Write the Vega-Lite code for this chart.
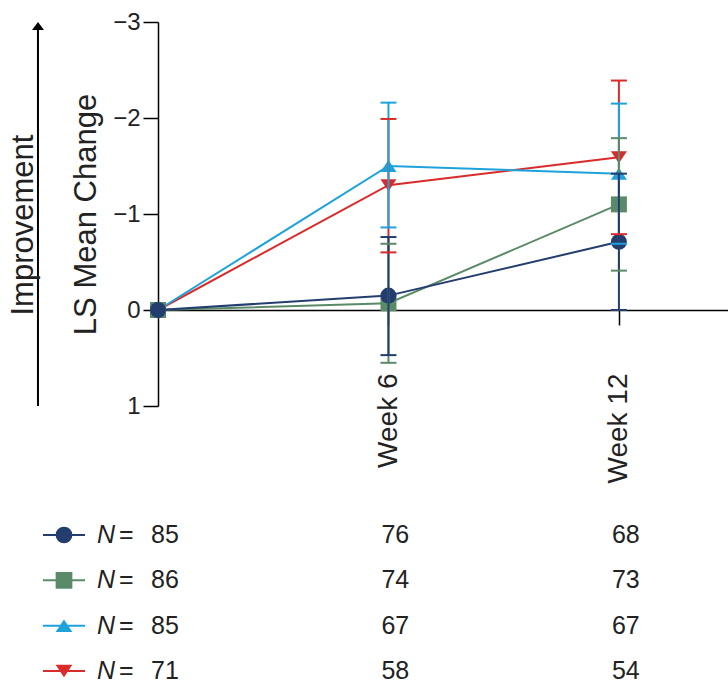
{
  "$schema": "https://vega.github.io/schema/vega-lite/v6.json",
  "width": 570,
  "height": 384,
  "autosize": {"type": "none"},
  "padding": {"left": 158, "top": 22, "right": 0, "bottom": 279},
  "config": {"view": {"stroke": null}, "font": "Liberation Sans", "axis": {"grid": false}},
  "datasets": {
    "means": [
      {"arm": "Arm 4", "week": 0, "mean": 0, "lo": null, "hi": null},
      {"arm": "Arm 4", "week": 6, "mean": -1.30, "lo": -1.99, "hi": -0.60},
      {"arm": "Arm 4", "week": 12, "mean": -1.59, "lo": -2.39, "hi": -0.79},
      {"arm": "Arm 3", "week": 0, "mean": 0, "lo": null, "hi": null},
      {"arm": "Arm 3", "week": 6, "mean": -1.50, "lo": -2.16, "hi": -0.86},
      {"arm": "Arm 3", "week": 12, "mean": -1.42, "lo": -2.15, "hi": -0.69},
      {"arm": "Arm 2", "week": 0, "mean": 0, "lo": null, "hi": null},
      {"arm": "Arm 2", "week": 6, "mean": -0.07, "lo": -0.69, "hi": 0.55},
      {"arm": "Arm 2", "week": 12, "mean": -1.10, "lo": -1.79, "hi": -0.41},
      {"arm": "Arm 1", "week": 0, "mean": 0, "lo": null, "hi": null},
      {"arm": "Arm 1", "week": 6, "mean": -0.15, "lo": -0.76, "hi": 0.47},
      {"arm": "Arm 1", "week": 12, "mean": -0.71, "lo": -1.42, "hi": 0.0}
    ],
    "counts": [
      {"arm": "Arm 1", "week": 0, "n": 85},
      {"arm": "Arm 1", "week": 6, "n": 76},
      {"arm": "Arm 1", "week": 12, "n": 68},
      {"arm": "Arm 2", "week": 0, "n": 86},
      {"arm": "Arm 2", "week": 6, "n": 74},
      {"arm": "Arm 2", "week": 12, "n": 73},
      {"arm": "Arm 3", "week": 0, "n": 85},
      {"arm": "Arm 3", "week": 6, "n": 67},
      {"arm": "Arm 3", "week": 12, "n": 67},
      {"arm": "Arm 4", "week": 0, "n": 71},
      {"arm": "Arm 4", "week": 6, "n": 58},
      {"arm": "Arm 4", "week": 12, "n": 54}
    ]
  },
  "layer": [
    {
      "data": {"name": "means"},
      "layer": [
        {
          "mark": {"type": "line", "strokeWidth": 2},
          "encoding": {
            "x": {"field": "week", "type": "quantitative",
              "scale": {"domain": [0, 14.84], "nice": false, "zero": false},
              "axis": {"orient": "bottom", "offset": -96, "values": [6, 12], "labelExpr": "'Week ' + datum.value",
                "labelAngle": 270, "labelFontSize": 28, "labelColor": "#222", "labelPadding": 48,
                "tickSize": 15, "tickColor": "black", "tickWidth": 1.5, "domainColor": "black", "domainWidth": 1.5,
                "title": null, "labelFlush": false}},
            "y": {"field": "mean", "type": "quantitative",
              "scale": {"domain": [-3, 1], "reverse": true, "nice": false, "zero": false},
              "axis": {"values": [-3, -2, -1, 0, 1], "format": "d", "labelExpr": "format(datum.value, 'd')",
                "labelFontSize": 24, "labelColor": "#222", "labelPadding": 3,
                "tickSize": 15, "tickColor": "black", "tickWidth": 1.5, "domainColor": "black", "domainWidth": 1.5,
                "title": "LS Mean Change", "titleFontSize": 31, "titleFontWeight": "normal", "titleColor": "#222",
                "titleX": -63, "titleY": 192, "titleBaseline": "alphabetic", "titleAlign": "center", "titleAngle": 270}},
            "color": {"field": "arm", "type": "nominal",
              "scale": {"domain": ["Arm 1", "Arm 2", "Arm 3", "Arm 4"], "range": ["#233e6e", "#5b8a68", "#1ea2dc", "#da2b2b"]},
              "legend": null}
          }
        },
        {
          "mark": {"type": "point", "filled": true, "size": 256, "opacity": 1},
          "encoding": {
            "x": {"field": "week", "type": "quantitative"},
            "y": {"field": "mean", "type": "quantitative"},
            "color": {"field": "arm", "type": "nominal", "legend": null},
            "shape": {"field": "arm", "type": "nominal",
              "scale": {"domain": ["Arm 1", "Arm 2", "Arm 3", "Arm 4"], "range": ["circle", "square", "M0,-0.75L1,0.75L-1,0.75Z", "M0,0.75L1,-0.75L-1,-0.75Z"]},
              "legend": null}
          }
        },
        {
          "mark": {"type": "rule", "strokeWidth": 2},
          "encoding": {
            "x": {"field": "week", "type": "quantitative"},
            "y": {"field": "lo", "type": "quantitative"},
            "y2": {"field": "hi"},
            "color": {"field": "arm", "type": "nominal", "legend": null}
          }
        },
        {
          "mark": {"type": "tick", "orient": "horizontal", "size": 16, "thickness": 2, "opacity": 1},
          "encoding": {
            "x": {"field": "week", "type": "quantitative"},
            "y": {"field": "lo", "type": "quantitative"},
            "color": {"field": "arm", "type": "nominal", "legend": null}
          }
        },
        {
          "mark": {"type": "tick", "orient": "horizontal", "size": 16, "thickness": 2, "opacity": 1},
          "encoding": {
            "x": {"field": "week", "type": "quantitative"},
            "y": {"field": "hi", "type": "quantitative"},
            "color": {"field": "arm", "type": "nominal", "legend": null}
          }
        },
        {
          "data": {"values": [{}]},
          "mark": {"type": "rule", "strokeWidth": 2, "color": "black"},
          "encoding": {
            "x": {"datum": -3.125, "type": "quantitative"},
            "y": {"datum": 1, "type": "quantitative"},
            "y2": {"datum": -2.95}
          }
        },
        {
          "data": {"values": [{}]},
          "mark": {"type": "point", "shape": "M0,-1L1.5,1L-1.5,1Z", "size": 64, "filled": true, "color": "black", "opacity": 1, "strokeWidth": 0},
          "encoding": {
            "x": {"datum": -3.125, "type": "quantitative"},
            "y": {"datum": -2.958, "type": "quantitative"}
          }
        },
        {
          "data": {"values": [{}]},
          "mark": {"type": "text", "text": "Improvement", "angle": 270, "fontSize": 31, "baseline": "alphabetic", "align": "center", "color": "#222"},
          "encoding": {
            "x": {"datum": -3.26, "type": "quantitative"},
            "y": {"datum": -0.885, "type": "quantitative"}
          }
        }
      ]
    },
    {
      "data": {"name": "counts"},
      "layer": [
        {
          "mark": {"type": "text", "align": "left", "baseline": "middle", "fontSize": 25, "dx": -7, "color": "#222"},
          "encoding": {
            "x": {"field": "week", "type": "quantitative"},
            "y": {"field": "arm", "type": "nominal",
              "scale": {"type": "point", "domain": ["Arm 1", "Arm 2", "Arm 3", "Arm 4"], "range": [513, 649], "padding": 0},
              "axis": null},
            "text": {"field": "n", "type": "quantitative"}
          }
        },
        {
          "transform": [{"filter": "datum.week === 0"}],
          "mark": {"type": "text", "text": "N", "fontStyle": "italic", "align": "left", "baseline": "middle", "fontSize": 25, "dx": -61, "color": "#222"},
          "encoding": {
            "x": {"field": "week", "type": "quantitative"},
            "y": {"field": "arm", "type": "nominal", "axis": null}
          }
        },
        {
          "transform": [{"filter": "datum.week === 0"}],
          "mark": {"type": "text", "text": "=", "align": "left", "baseline": "middle", "fontSize": 25, "dx": -39, "color": "#222"},
          "encoding": {
            "x": {"field": "week", "type": "quantitative"},
            "y": {"field": "arm", "type": "nominal", "axis": null}
          }
        },
        {
          "transform": [{"filter": "datum.week === 0"}],
          "mark": {"type": "point", "shape": "M-1,0L1,0", "size": 1764, "filled": false, "strokeWidth": 2, "opacity": 1, "xOffset": -94},
          "encoding": {
            "x": {"field": "week", "type": "quantitative"},
            "y": {"field": "arm", "type": "nominal", "axis": null},
            "color": {"field": "arm", "type": "nominal", "legend": null}
          }
        },
        {
          "transform": [{"filter": "datum.week === 0"}],
          "mark": {"type": "point", "filled": true, "size": 280, "opacity": 1, "xOffset": -94},
          "encoding": {
            "x": {"field": "week", "type": "quantitative"},
            "y": {"field": "arm", "type": "nominal", "axis": null},
            "color": {"field": "arm", "type": "nominal", "legend": null},
            "shape": {"field": "arm", "type": "nominal", "legend": null}
          }
        }
      ]
    }
  ],
  "resolve": {"scale": {"y": "independent"}}
}
